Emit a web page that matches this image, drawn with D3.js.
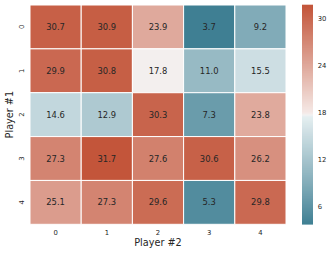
<!DOCTYPE html>
<html><head><meta charset="utf-8">
<script src="https://cdn.jsdelivr.net/npm/d3@7"></script>
<style>
body{margin:0;background:#fff;}
text{font-family:"DejaVu Sans",sans-serif;fill:#262626;}
</style></head>
<body><svg id="c" width="332" height="255"></svg>
<script>
const rowLabels = ["0","1","2","3","4"];
const colLabels = ["0","1","2","3","4"];
const row0 = [30.7, 30.9, 23.9, 3.7, 9.2];
const row1 = [29.9, 30.8, 17.8, 11.0, 15.5];
const row2 = [14.6, 12.9, 30.3, 7.3, 23.8];
const row3 = [27.3, 31.7, 27.6, 30.6, 26.2];
const row4 = [25.1, 27.3, 29.6, 5.3, 29.8];
const cbarTicks = [6, 12, 18, 24, 30];
const xTitle = "Player #2";
const yTitle = "Player #1";

const rows = [row0, row1, row2, row3, row4];
const cells = [];
rows.forEach((r, i) => r.forEach((v, j) => cells.push({row: rowLabels[i], col: colLabels[j], v})));

const svg = d3.select("#c");
const L = 30, R = 286, T = 5, B = 224.3;
const x = d3.scaleBand().domain(colLabels).range([L, R]);
const y = d3.scaleBand().domain(rowLabels).range([T, B]);
const all = rows.flat();
const vmin = d3.min(all), vmax = d3.max(all), vmid = (vmin + vmax) / 2;
const eps = (vmax - vmin) / 100;
const color = d3.scaleLinear()
  .domain([vmin, vmid - eps, vmid, vmid + eps, vmax])
  .range(["#3f7f93", "#e4eef0", "#f2f2f2", "#f5e9e6", "#c3553a"])
  .interpolate(d3.interpolateRgb);

svg.append("g").selectAll("rect").data(cells).join("rect")
  .attr("x", d => x(d.col)).attr("y", d => y(d.row))
  .attr("width", x.bandwidth()).attr("height", y.bandwidth())
  .attr("fill", d => color(d.v))
  .attr("stroke", "#fff").attr("stroke-width", 1);

svg.append("g").selectAll("text").data(cells).join("text")
  .attr("x", d => x(d.col) + x.bandwidth() / 2)
  .attr("y", d => y(d.row) + y.bandwidth() / 2)
  .attr("text-anchor", "middle").attr("dominant-baseline", "central")
  .attr("font-size", 8.4)
  .text(d => d.v.toFixed(1));

// x axis
const xa = svg.append("g").attr("transform", `translate(0,${B})`)
  .call(d3.axisBottom(x).tickSize(0).tickPadding(5.5));
xa.select(".domain").remove();
xa.selectAll("text").attr("font-size", 6.8).attr("font-family", "DejaVu Sans").attr("fill", "#262626");

// y axis (rotated labels)
const ya = svg.append("g");
ya.selectAll("text").data(rowLabels).join("text")
  .attr("transform", d => `translate(24,${y(d) + y.bandwidth() / 2}) rotate(-90)`)
  .attr("text-anchor", "middle").attr("font-size", 6.8)
  .text(d => d);

svg.append("text").attr("x", (L + R) / 2).attr("y", 246.3)
  .attr("text-anchor", "middle").attr("font-size", 9.7).text(xTitle);
svg.append("text").attr("transform", `translate(12.8,${(T + B) / 2}) rotate(-90)`)
  .attr("text-anchor", "middle").attr("font-size", 9.7).text(yTitle);

// colorbar
const cx = 302, cw = 11;
const cy = d3.scaleLinear().domain([vmin, vmax]).range([B, T]);
const n = 220;
const steps = d3.range(n).map(i => vmin + (vmax - vmin) * (i + 0.5) / n);
const h = (B - T) / n;
svg.append("g").selectAll("rect").data(steps).join("rect")
  .attr("x", cx).attr("width", cw)
  .attr("y", d => cy(d) - h / 2 - 0.3).attr("height", h + 0.6)
  .attr("fill", d => color(d));
const ca = svg.append("g").attr("transform", `translate(${cx + cw},0)`)
  .call(d3.axisRight(cy).tickValues(cbarTicks).tickSize(0).tickPadding(4.7));
ca.select(".domain").remove();
ca.selectAll("text").attr("font-size", 6.8).attr("font-family", "DejaVu Sans").attr("fill", "#262626");
</script></body></html>
